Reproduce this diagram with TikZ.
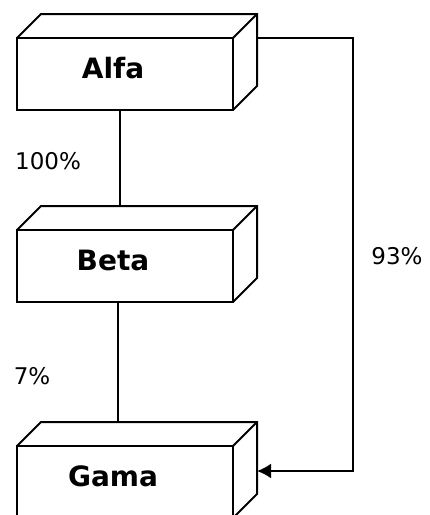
\documentclass[tikz,border=0pt]{standalone}
\usepackage{fontspec}
\setmainfont{DejaVu Sans}
\usepackage{tikz}
\usetikzlibrary{arrows.meta,calc,positioning}

\tikzset{
  devbox/.style={draw,line width=2pt,minimum width=216pt,minimum height=72pt,inner sep=0pt,outer sep=0pt,
    font=\fontsize{28}{30}\selectfont\bfseries,text height=20pt,text depth=12pt,
    execute at begin node={\hspace*{-24pt}}},
  share/.style={font=\fontsize{23}{26}\selectfont},
  link/.style={line width=2pt},
}

\begin{document}
\begin{tikzpicture}[x=1pt,y=-1pt,line join=miter]
\useasboundingbox (0,0) rectangle (430,515);
\clip (0,0) rectangle (430,515);
\node[devbox] (alfa) at (125,74) {Alfa};
\node[devbox] (beta) at (125,266) {Beta};
\node[devbox] (gama) at (125,482) {Gama};
\foreach \n in {alfa,beta,gama}{
  \draw[link] (\n.north west) -- ++(24pt,24pt) -- ([shift={(24pt,24pt)}]\n.north east) -- ([shift={(24pt,24pt)}]\n.south east) -- (\n.south east);
  \draw[link] (\n.north east) -- ++(24pt,24pt);
}
\draw[link] ([xshift=-5pt]alfa.south) -- ([shift={(-5pt,24pt)}]beta.north);
\draw[link] ([xshift=-7pt]beta.south) -- ([shift={(-7pt,24pt)}]gama.north);
\draw[link,-{Latex[length=14pt,width=15pt]}] ([xshift=24pt]alfa.north east) -| ([shift={(120pt,11pt)}]gama.east) -- ([shift={(24pt,11pt)}]gama.east);
\node[share] (p100) at (48,161) {100\%};
\node[share] (p7) at (32,376) {7\%};
\node[share] (p93) at (397,256) {93\%};
\end{tikzpicture}
\end{document}
